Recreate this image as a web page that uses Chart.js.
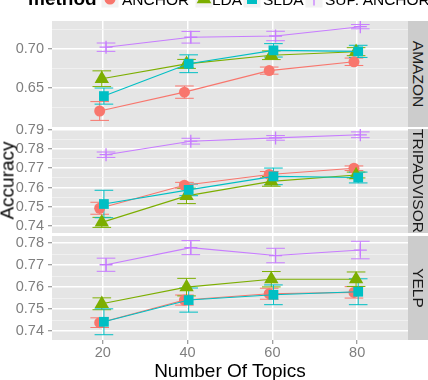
<!DOCTYPE html>
<html>
<head>
<meta charset="utf-8">
<script src="https://cdn.jsdelivr.net/npm/chart.js@4/dist/chart.umd.min.js"></script>
<style>
html,body{margin:0;padding:0;background:#fff;}
#wrap{position:relative;width:428px;height:380px;overflow:hidden;font-family:"Liberation Sans",Arial,Helvetica,sans-serif;}
canvas{position:absolute;left:0;top:0;}
.strip{position:absolute;left:408px;width:20px;background:#CCCCCC;overflow:hidden;}
.strip span{position:absolute;left:50%;top:50%;transform:translate(-50%,-50%) rotate(90deg);white-space:nowrap;font-size:15.5px;line-height:15.5px;color:#1A1A1A;}
#ytitle{position:absolute;width:200px;left:-92.7px;top:171px;text-align:center;font-size:19px;line-height:19px;color:#000;transform:rotate(-90deg);white-space:nowrap;}
#xtitle{position:absolute;width:300px;left:80px;top:360.5px;text-align:center;font-size:19px;line-height:19px;color:#000;white-space:nowrap;}
.lg{position:absolute;white-space:nowrap;color:#000;}
.lgtitle{font-weight:bold;font-size:19px;line-height:19px;left:28px;top:-11px;}
.lgtext{font-size:15.5px;line-height:15.5px;top:-8.1px;}
.lgkey{position:absolute;}
</style>
</head>
<body>
<div id="wrap">
  <canvas id="c1" width="428" height="380"></canvas>
  <canvas id="c2" width="428" height="380"></canvas>
  <canvas id="c3" width="428" height="380"></canvas>
  <div id="ytitle">Accuracy</div>
  <div id="xtitle">Number Of Topics</div>
</div>
<script>
// ---------------- data ----------------
const topics = [20, 40, 60, 80];
const methods = ['ANCHOR', 'LDA', 'SLDA', 'SUP. ANCHOR'];
const facets = ['AMAZON', 'TRIPADVISOR', 'YELP'];

// AMAZON
const amazonAnchor    = [0.6211, 0.6450, 0.6723, 0.6835];
const amazonAnchorErr = [0.0119, 0.0078, 0.0045, 0.0047];
const amazonLda       = [0.6620, 0.6808, 0.6918, 0.6963];
const amazonLdaErr    = [0.0100, 0.0057, 0.0055, 0.0051];
const amazonSlda      = [0.6400, 0.6810, 0.6980, 0.6967];
const amazonSldaErr   = [0.0102, 0.0113, 0.0085, 0.0077];
const amazonSup       = [0.7020, 0.7146, 0.7162, 0.7280];
const amazonSupErr    = [0.0053, 0.0074, 0.0060, 0.0027];

// TRIPADVISOR
const tripAnchor    = [0.7493, 0.7612, 0.7668, 0.7700];
const tripAnchorErr = [0.0031, 0.0015, 0.0015, 0.0012];
const tripLda       = [0.7420, 0.7557, 0.7632, 0.7665];
const tripLdaErr    = [0.0026, 0.0040, 0.0025, 0.0015];
const tripSlda      = [0.7515, 0.7588, 0.7658, 0.7652];
const tripSldaErr   = [0.0071, 0.0030, 0.0043, 0.0028];
const tripSup       = [0.7770, 0.7840, 0.7857, 0.7873];
const tripSupErr    = [0.0014, 0.0015, 0.0012, 0.0015];

// YELP
const yelpAnchor    = [0.7438, 0.7541, 0.7570, 0.7576];
const yelpAnchorErr = [0.0022, 0.0023, 0.0025, 0.0026];
const yelpLda       = [0.7524, 0.7600, 0.7636, 0.7636];
const yelpLdaErr    = [0.0027, 0.0040, 0.0035, 0.0033];
const yelpSlda      = [0.7442, 0.7541, 0.7565, 0.7579];
const yelpSldaErr   = [0.0059, 0.0055, 0.0045, 0.0059];
const yelpSup       = [0.7702, 0.7780, 0.7744, 0.7769];
const yelpSupErr    = [0.0030, 0.0032, 0.0033, 0.0040];

// axis ticks
const xTicks = [20, 40, 60, 80];
const amazonTicks = [0.65, 0.70];
const amazonMinor = [0.625, 0.675, 0.725];
const tripTicks = [0.74, 0.75, 0.76, 0.77, 0.78, 0.79];
const tripMinor = [0.745, 0.755, 0.765, 0.775, 0.785];
const yelpTicks = [0.74, 0.75, 0.76, 0.77, 0.78];
const yelpMinor = [0.745, 0.755, 0.765, 0.775];

// axis limits
const xRange = [8, 92];
const amazonRange = [0.6008, 0.7352];
const tripRange = [0.7365, 0.7903];
const yelpRange = [0.7359, 0.7833];

// ---------------- style ----------------
Chart.defaults.font.family = "'Liberation Sans', Arial, Helvetica, sans-serif";
const colors = ['#F8766D', '#7CAE00', '#00BFC4', '#C77CFF'];
const shapes = ['circle', 'triangle', 'rect', 'cross'];
const radii = [5.5, 8.3, 6.9, 6.5];
const dodge = [-0.75, -0.25, 0.25, 0.75];
const capHalf = 2.2;

const panels = [
  {id:'c1', name:facets[0], values:[amazonAnchor, amazonLda, amazonSlda, amazonSup],
   errs:[amazonAnchorErr, amazonLdaErr, amazonSldaErr, amazonSupErr],
   range:amazonRange, majors:amazonTicks, minors:amazonMinor, top:21, bottom:127, showX:false},
  {id:'c2', name:facets[1], values:[tripAnchor, tripLda, tripSlda, tripSup],
   errs:[tripAnchorErr, tripLdaErr, tripSldaErr, tripSupErr],
   range:tripRange, majors:tripTicks, minors:tripMinor, top:129, bottom:233, showX:false},
  {id:'c3', name:facets[2], values:[yelpAnchor, yelpLda, yelpSlda, yelpSup],
   errs:[yelpAnchorErr, yelpLdaErr, yelpSldaErr, yelpSupErr],
   range:yelpRange, majors:yelpTicks, minors:yelpMinor, top:236, bottom:340, showX:true}
];

const panelBg = {
  id: 'panelBg',
  beforeDraw(chart) {
    const {ctx, chartArea: a} = chart;
    ctx.save();
    ctx.fillStyle = '#E5E5E5';
    ctx.fillRect(a.left, a.top, a.right - a.left, a.bottom - a.top);
    ctx.restore();
  }
};

const errorBars = {
  id: 'errorBars',
  beforeDatasetsDraw(chart) {
    const {ctx, scales: {x, y}} = chart;
    ctx.save();
    ctx.lineWidth = 1;
    chart.data.datasets.forEach((ds, k) => {
      ds.errs.forEach((e, j) => {
        const xv = topics[j] + dodge[k];
        const px = x.getPixelForValue(xv);
        const hw = x.getPixelForValue(xv + capHalf) - px;
        const v = ds.values[j];
        const yt = y.getPixelForValue(v + e);
        const yb = y.getPixelForValue(v - e);
        ctx.strokeStyle = colors[k];
        ctx.beginPath();
        ctx.moveTo(px, yt); ctx.lineTo(px, yb);
        ctx.moveTo(px - hw, yt); ctx.lineTo(px + hw, yt);
        ctx.moveTo(px - hw, yb); ctx.lineTo(px + hw, yb);
        ctx.stroke();
      });
    });
    ctx.restore();
  }
};

function build(p) {
  const datasets = methods.map((m, k) => ({
    label: m,
    data: topics.map((t, j) => ({x: t + dodge[k], y: p.values[k][j]})),
    values: p.values[k],
    errs: p.errs[k],
    borderColor: colors[k],
    backgroundColor: colors[k],
    borderWidth: 1.1,
    pointStyle: shapes[k],
    pointRadius: radii[k],
    pointHoverRadius: radii[k],
    pointBackgroundColor: colors[k],
    pointBorderColor: colors[k],
    pointBorderWidth: k === 3 ? 1.3 : 0,
    tension: 0,
    fill: false,
    order: 4 - k
  }));
  const isMinor = c => c.tick && c.tick.minor;
  new Chart(document.getElementById(p.id), {
    type: 'line',
    data: {datasets},
    options: {
      responsive: false,
      animation: false,
      devicePixelRatio: 1,
      events: [],
      layout: {padding: {left: 0, right: 20, top: p.top, bottom: p.showX ? 0 : 380 - p.bottom}},
      plugins: {legend: {display: false}, tooltip: {enabled: false}},
      scales: {
        x: {
          type: 'linear', min: xRange[0], max: xRange[1],
          afterBuildTicks: s => { s.ticks = xTicks.map(v => ({value: v})); },
          afterFit: s => { s.height = p.showX ? 40 : 0; },
          border: {display: false},
          grid: {color: '#FFFFFF', lineWidth: 1.5, drawTicks: p.showX, tickLength: 4, tickColor: '#7F7F7F', tickWidth: 1},
          ticks: {display: p.showX, autoSkip: false, color: '#7F7F7F', font: {size: 14.5}, padding: 0, maxRotation: 0,
                  callback: v => String(v)}
        },
        y: {
          type: 'linear', min: p.range[0], max: p.range[1],
          afterBuildTicks: s => {
            s.ticks = p.majors.map(v => ({value: v, minor: false}))
              .concat(p.minors.map(v => ({value: v, minor: true})))
              .sort((a, b) => a.value - b.value);
          },
          afterFit: s => { s.width = 52; },
          border: {display: false},
          grid: {
            color: c => isMinor(c) ? '#F2F2F2' : '#FFFFFF',
            lineWidth: c => isMinor(c) ? 0.8 : 1.5,
            drawTicks: true, tickLength: 4,
            tickColor: c => isMinor(c) ? 'rgba(0,0,0,0)' : '#7F7F7F',
            tickWidth: 1
          },
          ticks: {autoSkip: false, color: '#7F7F7F', font: {size: 14.5}, padding: 4,
                  callback: (v, i, ticks) => ticks[i].minor ? '' : v.toFixed(2)}
        }
      }
    },
    plugins: [panelBg, errorBars]
  });
}

panels.forEach(build);

// strips
const wrap = document.getElementById('wrap');
panels.forEach(p => {
  const d = document.createElement('div');
  d.className = 'strip';
  d.style.top = p.top + 'px';
  d.style.height = (p.bottom - p.top) + 'px';
  const s = document.createElement('span');
  s.textContent = p.name;
  d.appendChild(s);
  wrap.appendChild(d);
});

// legend (cut off at top, like the reference)
const lgTitle = document.createElement('div');
lgTitle.className = 'lg lgtitle';
lgTitle.textContent = 'method';
wrap.appendChild(lgTitle);
const keyX = [110, 203.5, 252, 314];
const textX = [122, 212, 263, 325];
const keyY = -1.5;
const SVGNS = 'http://www.w3.org/2000/svg';
methods.forEach((m, k) => {
  const svg = document.createElementNS(SVGNS, 'svg');
  svg.setAttribute('width', 20); svg.setAttribute('height', 20);
  svg.setAttribute('class', 'lgkey');
  svg.style.left = (keyX[k] - 10) + 'px';
  svg.style.top = (keyY - 10) + 'px';
  const bg = document.createElementNS(SVGNS, 'rect');
  bg.setAttribute('x', 1.5); bg.setAttribute('y', 1.5); bg.setAttribute('width', 17); bg.setAttribute('height', 17);
  bg.setAttribute('fill', '#F2F2F2');
  svg.appendChild(bg);
  const ln = document.createElementNS(SVGNS, 'line');
  ln.setAttribute('x1', 1.5); ln.setAttribute('x2', 18.5); ln.setAttribute('y1', 10); ln.setAttribute('y2', 10);
  ln.setAttribute('stroke', colors[k]); ln.setAttribute('stroke-width', 1);
  svg.appendChild(ln);
  let sh;
  if (shapes[k] === 'circle') {
    sh = document.createElementNS(SVGNS, 'circle');
    sh.setAttribute('cx', 10); sh.setAttribute('cy', 10); sh.setAttribute('r', 5.5);
    sh.setAttribute('fill', colors[k]);
  } else if (shapes[k] === 'triangle') {
    sh = document.createElementNS(SVGNS, 'polygon');
    sh.setAttribute('points', '10,1.5 17.36,14.25 2.64,14.25');
    sh.setAttribute('fill', colors[k]);
  } else if (shapes[k] === 'rect') {
    sh = document.createElementNS(SVGNS, 'rect');
    sh.setAttribute('x', 5); sh.setAttribute('y', 5); sh.setAttribute('width', 10); sh.setAttribute('height', 10);
    sh.setAttribute('fill', colors[k]);
  } else {
    sh = document.createElementNS(SVGNS, 'path');
    sh.setAttribute('d', 'M3.5 10 H16.5 M10 3.5 V16.5');
    sh.setAttribute('stroke', colors[k]); sh.setAttribute('stroke-width', 1.3); sh.setAttribute('fill', 'none');
  }
  svg.appendChild(sh);
  wrap.appendChild(svg);
  const t = document.createElement('div');
  t.className = 'lg lgtext';
  t.style.left = textX[k] + 'px';
  t.textContent = m;
  wrap.appendChild(t);
});
</script>
</body>
</html>
